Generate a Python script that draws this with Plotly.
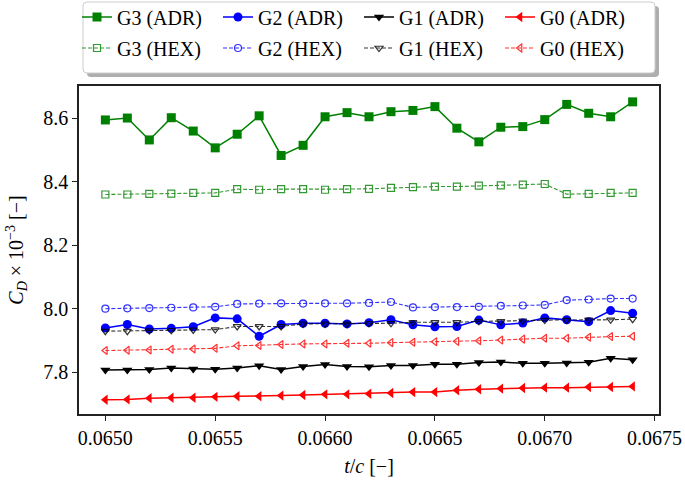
import plotly.graph_objects as go

t_c = [0.0650, 0.0651, 0.0652, 0.0653, 0.0654, 0.0655, 0.0656, 0.0657, 0.0658, 0.0659,
       0.0660, 0.0661, 0.0662, 0.0663, 0.0664, 0.0665, 0.0666, 0.0667, 0.0668, 0.0669,
       0.0670, 0.0671, 0.0672, 0.0673, 0.0674]

g3_adr = [8.595, 8.601, 8.532, 8.602, 8.560, 8.507, 8.550, 8.608, 8.483, 8.515,
          8.605, 8.618, 8.605, 8.621, 8.625, 8.637, 8.569, 8.526, 8.572, 8.574,
          8.596, 8.644, 8.616, 8.605, 8.652]
g3_hex = [8.360, 8.360, 8.362, 8.363, 8.365, 8.365, 8.377, 8.375, 8.377, 8.377,
          8.375, 8.377, 8.378, 8.381, 8.383, 8.385, 8.385, 8.388, 8.389, 8.391,
          8.393, 8.361, 8.362, 8.365, 8.365]
g2_adr = [7.939, 7.950, 7.936, 7.938, 7.943, 7.971, 7.968, 7.913, 7.950, 7.954,
          7.954, 7.952, 7.956, 7.965, 7.949, 7.943, 7.944, 7.964, 7.949, 7.955,
          7.971, 7.965, 7.959, 7.994, 7.986]
g2_hex = [8.000, 8.001, 8.002, 8.003, 8.004, 8.006, 8.015, 8.016, 8.017, 8.016,
          8.017, 8.017, 8.018, 8.021, 8.004, 8.005, 8.005, 8.006, 8.009, 8.010,
          8.012, 8.027, 8.029, 8.032, 8.032]
g1_adr = [7.807, 7.807, 7.808, 7.813, 7.810, 7.809, 7.813, 7.820, 7.808, 7.818,
          7.824, 7.818, 7.817, 7.821, 7.821, 7.825, 7.825, 7.830, 7.832, 7.828,
          7.828, 7.829, 7.831, 7.844, 7.839]
g1_hex = [7.929, 7.929, 7.931, 7.932, 7.933, 7.934, 7.944, 7.944, 7.944, 7.952,
          7.952, 7.952, 7.954, 7.954, 7.957, 7.957, 7.957, 7.960, 7.960, 7.962,
          7.964, 7.964, 7.965, 7.965, 7.967]
g0_adr = [7.713, 7.714, 7.718, 7.719, 7.719, 7.722, 7.724, 7.724, 7.726, 7.728,
          7.730, 7.730, 7.732, 7.734, 7.737, 7.737, 7.743, 7.746, 7.748, 7.750,
          7.751, 7.751, 7.753, 7.753, 7.755]
g0_hex = [7.868, 7.869, 7.870, 7.872, 7.873, 7.875, 7.883, 7.884, 7.887, 7.889,
          7.889, 7.891, 7.891, 7.893, 7.894, 7.896, 7.897, 7.899, 7.901, 7.904,
          7.907, 7.907, 7.910, 7.912, 7.913]

x_ticks = [0.0650, 0.0655, 0.0660, 0.0665, 0.0670, 0.0675]
x_tick_labels = ["0.0650", "0.0655", "0.0660", "0.0665", "0.0670", "0.0675"]
y_ticks = [7.8, 8.0, 8.2, 8.4, 8.6]
y_tick_labels = ["7.8", "8.0", "8.2", "8.4", "8.6"]

FONT = "'Liberation Serif', 'Times New Roman', 'DejaVu Serif', serif"

series = [
    ("G3 (ADR)", g3_adr, "#008000", "square", "legend", True),
    ("G3 (HEX)", g3_hex, "#008000", "square-open", "legend2", False),
    ("G2 (ADR)", g2_adr, "#0000ff", "circle", "legend", True),
    ("G2 (HEX)", g2_hex, "#0000ff", "circle-open", "legend2", False),
    ("G1 (ADR)", g1_adr, "#000000", "triangle-down", "legend", True),
    ("G1 (HEX)", g1_hex, "#000000", "triangle-down-open", "legend2", False),
    ("G0 (ADR)", g0_adr, "#ff0000", "triangle-left", "legend", True),
    ("G0 (HEX)", g0_hex, "#ff0000", "triangle-left-open", "legend2", False),
]

fig = go.Figure()
for name, vals, color, sym, leg, solid in series:
    if solid:
        line = dict(color=color, width=1.5)
        marker = dict(symbol=sym, size=9, color=color, line=dict(width=0))
        op = 1.0
    else:
        line = dict(color=color, width=1.1, dash="4px,2px")
        marker = dict(symbol=sym, size=7, color=color, line=dict(width=1.2, color=color))
        op = 0.8
    fig.add_trace(go.Scatter(x=t_c, y=vals, name=name, mode="lines+markers",
                             line=line, marker=marker, opacity=op, legend=leg))

# plot area: x 79..659 (580 px), y 86..414 (328 px)
PW, PH = 580.0, 328.0
L, T = 79.0, 86.0


def px(x):
    return (x - L) / PW


def py(y):
    return (T + PH - y) / PH


def rrect(x0, y0, x1, y1, r):
    rx, ry = r / PW, r / PH
    X0, X1 = px(x0), px(x1)
    Y0, Y1 = py(y0), py(y1)
    return (f"M {X0+rx},{Y0} L {X1-rx},{Y0} Q {X1},{Y0} {X1},{Y0-ry} "
            f"L {X1},{Y1+ry} Q {X1},{Y1} {X1-rx},{Y1} L {X0+rx},{Y1} "
            f"Q {X0},{Y1} {X0},{Y1+ry} L {X0},{Y0-ry} Q {X0},{Y0} {X0+rx},{Y0} Z")


shapes = [
    dict(type="path", xref="paper", yref="paper", path=rrect(87, 6, 659, 77, 4),
         fillcolor="rgba(120,120,120,0.6)", line=dict(width=0), layer="above"),
    dict(type="path", xref="paper", yref="paper", path=rrect(83, 2, 655, 73, 4),
         fillcolor="white", line=dict(color="#cccccc", width=1), layer="above"),
]

leg_common = dict(orientation="h", xanchor="left", yanchor="middle",
                  entrywidth=96, entrywidthmode="pixels", itemwidth=30,
                  bgcolor="rgba(0,0,0,0)", borderwidth=0,
                  font=dict(family=FONT, size=20, color="black"))

fig.update_layout(
    width=685, height=494,
    margin=dict(l=79, r=26, t=86, b=80, autoexpand=False),
    paper_bgcolor="white", plot_bgcolor="white",
    font=dict(family=FONT, size=20, color="black"),
    shapes=shapes,
    showlegend=True,
    legend=dict(x=px(77), y=py(17), **leg_common),
    legend2=dict(x=px(77), y=py(48), **leg_common),
    xaxis=dict(range=[0.06488, 0.06752], tickvals=x_ticks, ticktext=x_tick_labels,
               showgrid=False, zeroline=False, showline=True, mirror=True,
               linecolor="#222222", linewidth=1.5, ticks="outside", ticklen=5,
               tickwidth=1.2, tickcolor="#222222",
               tickfont=dict(family=FONT, size=20),
               title=dict(text="<i>t</i>/<i>c</i> [−]", font=dict(family=FONT, size=20), standoff=11)),
    yaxis=dict(range=[7.668, 8.702], tickvals=y_ticks, ticktext=y_tick_labels,
               showgrid=False, zeroline=False, showline=True, mirror=True,
               linecolor="#222222", linewidth=1.5, ticks="outside", ticklen=5,
               tickwidth=1.2, tickcolor="#222222",
               tickfont=dict(family=FONT, size=20),
               title=dict(text="<i>C</i><sub><i>D</i></sub> × 10<sup>−3</sup> [−]",
                          font=dict(family=FONT, size=20), standoff=14)),
)

fig.write_html("out.html", config={"displayModeBar": False},
               post_script="document.body.style.margin='0';")
